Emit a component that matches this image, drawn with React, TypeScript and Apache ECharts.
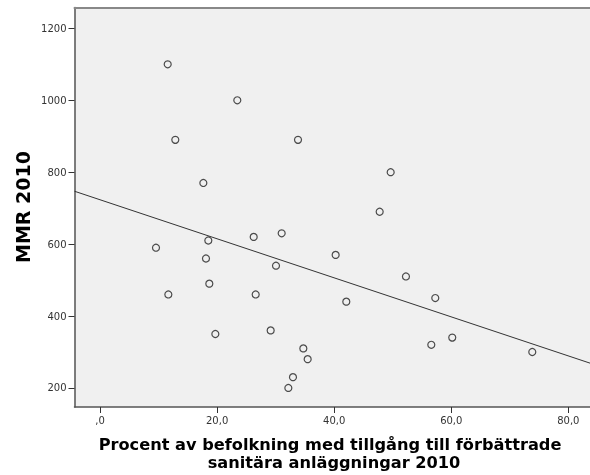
import React, { useEffect, useRef } from "react";
import * as echarts from "echarts";

// Percent of population with access to improved sanitation facilities 2010
const sanitation = [
  11.56, 23.45, 12.86, 33.82, 17.65, 26.25, 31.03, 18.5, 9.56, 11.67,
  40.25, 18.1, 30.06, 18.67, 26.59, 42.07, 19.7, 29.15, 34.73, 35.47,
  32.96, 32.17, 49.65, 47.77, 52.26, 57.27, 56.59, 60.17, 73.84,
];
// MMR 2010
const mmr = [
  1100, 1000, 890, 890, 770, 620, 630, 610, 590, 460,
  570, 560, 540, 490, 460, 440, 350, 360, 310, 280,
  230, 200, 800, 690, 510, 450, 320, 340, 300,
];
// Linear fit line (x, y) at the plot edges
const fitX = [-4.36, 83.7];
const fitY = [747, 269];

const xTicks = [0, 20, 40, 60, 80];
const yTicks = [200, 400, 600, 800, 1000, 1200];

const xTitleLine1 = "Procent av befolkning med tillgång till förbättrade";
const xTitleLine2 = "sanitära anläggningar 2010";
const yTitle = "MMR 2010";

const FONT = "'DejaVu Sans', Verdana, sans-serif";

export default function App() {
  const ref = useRef<HTMLDivElement>(null);
  useEffect(() => {
    if (!ref.current) return;
    const chart = echarts.init(ref.current, undefined, { renderer: "svg" });
    const points = sanitation.map((x, i) => [x, mmr[i]]);
    const fit = fitX.map((x, i) => [x, fitY[i]]);
    const titleStyle = {
      fontFamily: FONT,
      fontWeight: "bold",
      fontSize: 16.2,
      fill: "#000",
      align: "center",
      verticalAlign: "middle",
    };
    chart.setOption({
      animation: false,
      grid: {
        left: 74.5,
        top: 7.5,
        right: 0,
        bottom: 68,
        show: true,
        backgroundColor: "#f0f0f0",
        borderWidth: 0,
      },
      xAxis: [
        {
          type: "value",
          min: -4.36,
          max: 83.7,
          splitLine: { show: false },
          axisLine: { show: true, onZero: false, lineStyle: { color: "#555", width: 1.5 } },
          axisTick: { show: true, length: 6, customValues: xTicks, lineStyle: { color: "#333" } },
          axisLabel: {
            customValues: xTicks,
            margin: 8,
            fontFamily: FONT,
            fontSize: 10,
            color: "#333",
            formatter: (v: number) => (v === 0 ? ",0" : v.toFixed(1).replace(".", ",")),
          },
        },
        {
          type: "value",
          position: "top",
          min: -4.36,
          max: 83.7,
          splitLine: { show: false },
          axisLine: { show: true, onZero: false, lineStyle: { color: "#888", width: 2 } },
          axisTick: { show: false },
          axisLabel: { show: false },
        },
      ],
      yAxis: {
        type: "value",
        min: 147,
        max: 1258,
        splitLine: { show: false },
        axisLine: { show: true, onZero: false, lineStyle: { color: "#555", width: 1.5 } },
        axisTick: { show: true, length: 6, customValues: yTicks, lineStyle: { color: "#333" } },
        axisLabel: {
          customValues: yTicks,
          margin: 8,
          fontFamily: FONT,
          fontSize: 10,
          color: "#333",
          formatter: (v: number) => String(v),
        },
      },
      graphic: [
        {
          type: "text",
          x: 23,
          y: 207,
          rotation: Math.PI / 2,
          style: {
            text: yTitle,
            fontFamily: FONT,
            fontWeight: "bold",
            fontSize: 19,
            fill: "#000",
            align: "center",
            verticalAlign: "middle",
          },
        },
        { type: "text", x: 330, y: 444, style: { ...titleStyle, text: xTitleLine1 } },
        { type: "text", x: 334, y: 462, style: { ...titleStyle, text: xTitleLine2 } },
      ],
      series: [
        {
          type: "line",
          data: fit,
          symbol: "none",
          lineStyle: { color: "#333", width: 1 },
          silent: true,
        },
        {
          type: "scatter",
          data: points,
          symbol: "circle",
          symbolSize: 7,
          itemStyle: { color: "rgba(0,0,0,0)", borderColor: "#222", borderWidth: 1.2 },
        },
      ],
    });
    return () => chart.dispose();
  }, []);
  return (
    <div
      ref={ref}
      style={{ position: "fixed", left: 0, top: 0, width: 590, height: 475 }}
    />
  );
}
